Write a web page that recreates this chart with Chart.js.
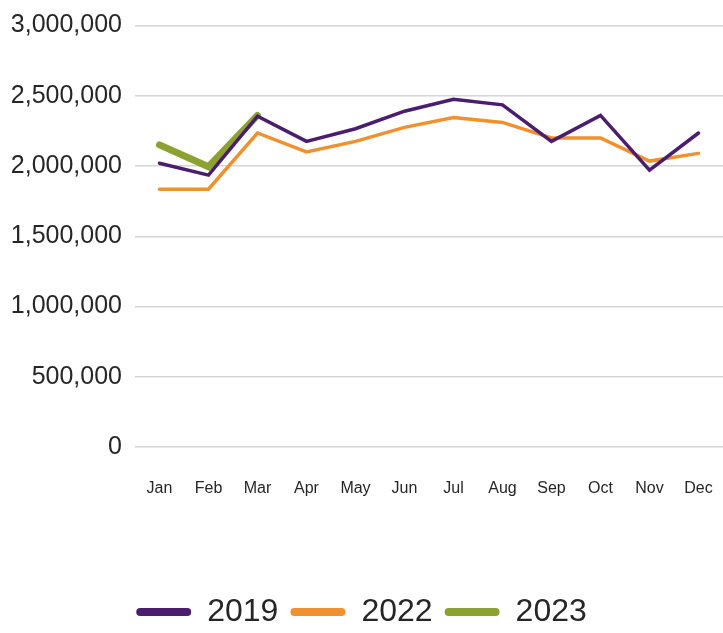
<!DOCTYPE html>
<html>
<head>
<meta charset="utf-8">
<script src="https://cdn.jsdelivr.net/npm/chart.js@4/dist/chart.umd.min.js"></script>
<style>
  html, body { margin: 0; padding: 0; background: #fff; }
  #wrap { width: 723px; height: 633px; position: relative; }
</style>
</head>
<body>
<div id="wrap"><canvas id="chart"></canvas></div>
<script>
const months = ['Jan', 'Feb', 'Mar', 'Apr', 'May', 'Jun', 'Jul', 'Aug', 'Sep', 'Oct', 'Nov', 'Dec'];
const values2019 = [2020000, 1935000, 2355000, 2175000, 2265000, 2390000, 2475000, 2435000, 2175000, 2360000, 1970000, 2235000];
const values2022 = [1835000, 1835000, 2235000, 2100000, 2175000, 2275000, 2345000, 2310000, 2200000, 2200000, 2035000, 2090000];
const values2023 = [2150000, 1995000, 2360000];
const yTicks = [0, 500000, 1000000, 1500000, 2000000, 2500000, 3000000];

const FONT = '"Liberation Sans", Arial, sans-serif';
const purple = '#4b1d6f';
const orange = '#f0902f';
const green = '#8ba232';

const ctx = document.getElementById('chart').getContext('2d');
new Chart(ctx, {
    type: 'line',
    data: {
        labels: months,
        datasets: [
            { label: '2019', data: values2019, borderColor: purple, backgroundColor: purple, borderWidth: 3.5 },
            { label: '2022', data: values2022, borderColor: orange, backgroundColor: orange, borderWidth: 3.5 },
            { label: '2023', data: values2023, borderColor: green, backgroundColor: green, borderWidth: 7 }
        ]
    },
    options: {
        responsive: true,
        maintainAspectRatio: false,
        animation: false,
        layout: { padding: { top: 1, right: 0, bottom: -5, left: 0 } },
        elements: {
            point: { radius: 0 },
            line: { tension: 0, borderCapStyle: 'round', borderJoinStyle: 'miter' }
        },
        plugins: {
            tooltip: { enabled: false },
            legend: {
                position: 'bottom',
                labels: {
                    color: '#262626',
                    font: { family: FONT, size: 32 },
                    boxWidth: 55,
                    boxHeight: 8,
                    padding: 12,
                    useBorderRadius: true,
                    borderRadius: 4,
                    generateLabels: function(chart) {
                        const items = Chart.defaults.plugins.legend.labels.generateLabels(chart);
                        items.forEach(it => { it.lineWidth = 0; });
                        return items;
                    }
                }
            }
        },
        scales: {
            x: {
                offset: true,
                grid: { display: true, drawOnChartArea: false, drawTicks: true, tickLength: 32, tickColor: 'rgba(0,0,0,0)' },
                border: { display: false },
                ticks: { color: '#262626', font: { family: FONT, size: 16 }, padding: 0, maxRotation: 0, autoSkip: false },
                afterFit: function(axis) { axis.height = 137; }
            },
            y: {
                min: 0,
                max: 3000000,
                afterBuildTicks: function(axis) { axis.ticks = yTicks.map(v => ({ value: v })); },
                grid: { color: '#d4d4d4', lineWidth: 1.5, drawTicks: false },
                border: { display: false },
                ticks: {
                    color: '#262626',
                    font: { family: FONT, size: 25, lineHeight: 1 },
                    padding: 13,
                    callback: v => v.toLocaleString('en-US')
                },
                afterFit: function(axis) { axis.width = 135; }
            }
        }
    }
});
</script>
</body>
</html>
